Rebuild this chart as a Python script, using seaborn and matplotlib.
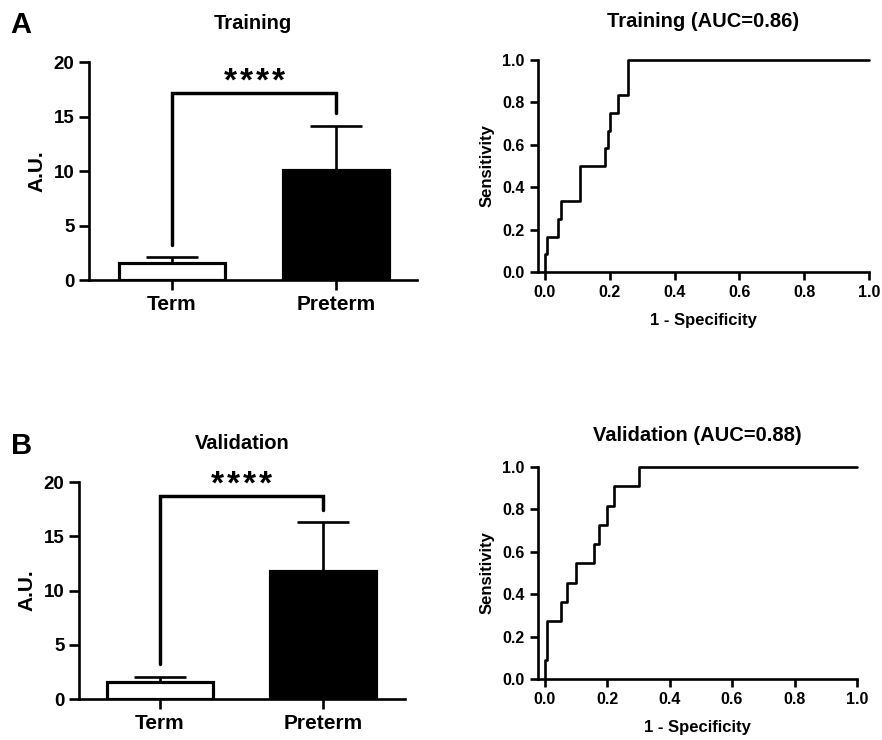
import numpy as np
import pandas as pd
import matplotlib
matplotlib.use("Agg")
import matplotlib.pyplot as plt
import seaborn as sns

sns.set_style("ticks")
plt.rcParams['font.family'] = ['Liberation Sans', 'DejaVu Sans']
plt.rcParams['font.weight'] = 'bold'
for k in ['text.color', 'axes.labelcolor', 'xtick.color', 'ytick.color', 'axes.edgecolor']:
    plt.rcParams[k] = 'black'

# bar data
groups = ["Term", "Preterm"]
train_mean = [1.6, 10.1]
train_err = [0.5, 4.0]
valid_mean = [1.6, 11.8]
valid_err = [0.45, 4.5]
# significance brackets: left foot, top, right foot
train_bracket = [3.2, 17.2, 15.3]
valid_bracket = [3.2, 18.7, 17.4]

# roc step corners (fpr, tpr)
train_fpr = [0, 0, 0.007, 0.041, 0.049, 0.107, 0.187, 0.194, 0.202, 0.227, 0.258, 1.0]
train_tpr = [0, 0.083, 0.167, 0.25, 0.333, 0.5, 0.583, 0.667, 0.75, 0.833, 1.0, 1.0]
valid_fpr = [0, 0, 0.007, 0.053, 0.073, 0.10, 0.159, 0.173, 0.20, 0.223, 0.303, 1.0]
valid_tpr = [0, 0.091, 0.273, 0.364, 0.455, 0.545, 0.636, 0.727, 0.818, 0.909, 1.0, 1.0]

LW = 1.9

fig = plt.figure(figsize=(8.82, 7.40), dpi=100)


def bar_panel(rect, means, errs, bracket, title, xlim):
    ax = fig.add_axes(rect)
    d = pd.DataFrame({"group": groups, "val": means})
    sns.barplot(data=d, x="group", y="val", hue="group", palette=["white", "black"],
                edgecolor="black", linewidth=LW*1.2, width=0.65, errorbar=None,
                legend=False, ax=ax, zorder=3)
    ax.errorbar(range(len(groups)), means, yerr=[[0]*len(errs), errs], fmt="none",
                ecolor="black", elinewidth=LW, capsize=19, capthick=LW, zorder=2)
    ax.plot([0, 0, 1, 1], [bracket[0], bracket[1], bracket[1], bracket[2]],
            color="black", lw=LW*1.3, clip_on=False, solid_joinstyle="miter")
    # four spaced stars
    for i in range(4):
        ax.annotate("*", xy=(0.5, bracket[1] + 0.2), xytext=((i - 1.5) * 11.5, 0),
                    textcoords="offset points", ha="center", va="baseline",
                    fontsize=24, fontweight="bold", annotation_clip=False)
    ax.set_ylim(0, 20)
    ax.set_xlim(*xlim)
    ax.set_yticks([0, 5, 10, 15, 20])
    ax.set_xlabel("")
    ax.set_ylabel("A.U.", fontsize=15, fontweight="bold", labelpad=5)
    ax.set_title(title, fontsize=14.5, fontweight="bold", pad=24)
    ax.tick_params(axis="y", labelsize=13.5, width=LW, length=7)
    ax.tick_params(axis="x", labelsize=15, width=LW, length=7, pad=4)
    for s in ["left", "bottom"]:
        ax.spines[s].set_linewidth(LW)
    sns.despine(ax=ax)
    return ax


def roc_panel(rect, fpr, tpr, title, pad):
    ax = fig.add_axes(rect)
    d = pd.DataFrame({"fpr": fpr, "tpr": tpr})
    sns.lineplot(data=d, x="fpr", y="tpr", sort=False, estimator=None,
                 drawstyle="steps-post", color="black", lw=LW, ax=ax, clip_on=False)
    ax.set_xlim(-0.021, 1.0)
    ax.set_ylim(0, 1.0)
    ax.set_xticks(np.arange(0, 1.01, 0.2))
    ax.set_yticks(np.arange(0, 1.01, 0.2))
    ax.xaxis.set_major_formatter(matplotlib.ticker.FormatStrFormatter("%.1f"))
    ax.yaxis.set_major_formatter(matplotlib.ticker.FormatStrFormatter("%.1f"))
    ax.set_xlabel("1 - Specificity", fontsize=12, fontweight="bold", labelpad=9)
    ax.set_ylabel("Sensitivity", fontsize=12, fontweight="bold", labelpad=6)
    ax.set_title(title, fontsize=14.5, fontweight="bold", pad=pad)
    ax.tick_params(labelsize=11.5, width=LW, length=6)
    for s in ["left", "bottom"]:
        ax.spines[s].set_linewidth(LW)
    sns.despine(ax=ax)
    return ax


bar_panel([0.1009, 0.6216, 0.372, 0.2946], train_mean, train_err, train_bracket,
          "Training", (-0.506, 1.494))
bar_panel([0.0896, 0.0554, 0.3696, 0.2932], valid_mean, valid_err, valid_bracket,
          "Validation", (-0.497, 1.503))
roc_panel([0.61, 0.6324, 0.3753, 0.2865], train_fpr, train_tpr, "Training (AUC=0.86)", 24)
roc_panel([0.61, 0.0824, 0.3617, 0.2865], valid_fpr, valid_tpr, "Validation (AUC=0.88)", 19)

fig.text(0.012, 0.955, "A", fontsize=21, fontweight="bold", ha="left", va="baseline")
fig.text(0.012, 0.387, "B", fontsize=21, fontweight="bold", ha="left", va="baseline")

fig.savefig("out.png", dpi=100)
